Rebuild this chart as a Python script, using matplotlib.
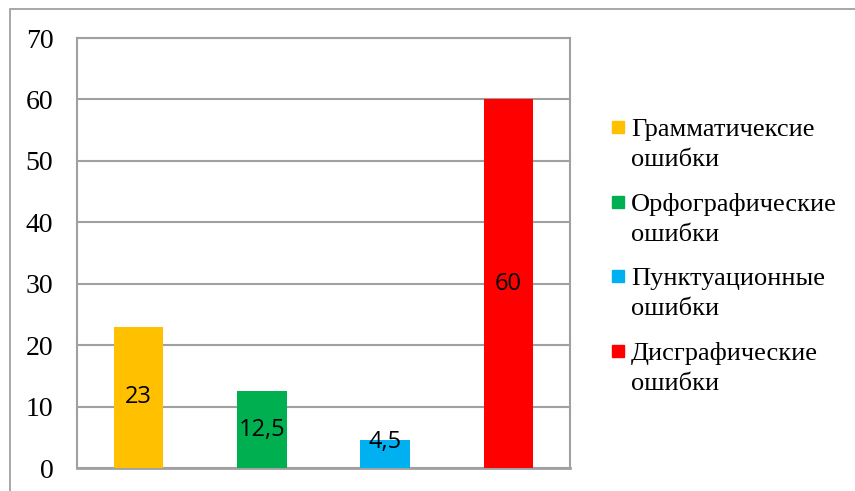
import matplotlib.pyplot as plt
from matplotlib.patches import Rectangle

categories = ["Грамматичексие\nошибки", "Орфографические\nошибки",
              "Пунктуационные\nошибки", "Дисграфические\nошибки"]
values = [23, 12.5, 4.5, 60]
value_labels = ["23", "12,5", "4,5", "60"]
colors = ["#FFC000", "#00B050", "#00B0F0", "#FF0000"]
yticks = [0, 10, 20, 30, 40, 50, 60, 70]

W, H = 855, 491
fig = plt.figure(figsize=(W / 100, H / 100), dpi=100)

# outer chart frame (right and bottom edges fall outside the picture)
fig.patches.append(Rectangle((10 / W, -0.1), 1.0, 1 - 9 / H + 0.1,
                             transform=fig.transFigure, fill=False,
                             edgecolor="#a0a0a0", lw=1.3))

ax = fig.add_axes([77 / W, 23 / H, 493 / W, 430 / H])
x = range(len(values))
bars = ax.bar(x, values, width=0.4, color=colors, zorder=3)

ax.set_xlim(-0.5, len(values) - 0.5)
ax.set_ylim(0, 70)
ax.set_yticks(yticks)
ax.set_yticklabels([str(t) for t in yticks], family="Liberation Serif", fontsize=20)
ax.set_xticks([])
ax.tick_params(axis="y", length=0, pad=17)
ax.grid(True, axis="y", color="#a0a0a0", lw=1.5, zorder=0)
for s in ax.spines.values():
    s.set_color("#a0a0a0")
    s.set_linewidth(1.5)
ax.spines["bottom"].set_linewidth(2)

for b, v, lab in zip(bars, values, value_labels):
    y = max(v / 2, 4.2)
    ax.text(b.get_x() + b.get_width() / 2, y, lab, ha="center", va="center",
            family="Open Sans", fontsize=17, color="black", zorder=4)

# legend drawn by hand: square next to the first line of each two-line label
for i, (name, c) in enumerate(zip(categories, colors)):
    base = 136 + i * 74.7
    fig.patches.append(Rectangle((612 / W, 1 - (base - 3) / H), 12 / W, 12 / H,
                                 transform=fig.transFigure, color=c))
    for j, line in enumerate(name.split("\n")):
        fig.text(631 / W, 1 - (base + j * 30) / H, line, ha="left", va="baseline",
                 family="Liberation Serif", fontsize=19)

fig.savefig("out.png", dpi=100)
